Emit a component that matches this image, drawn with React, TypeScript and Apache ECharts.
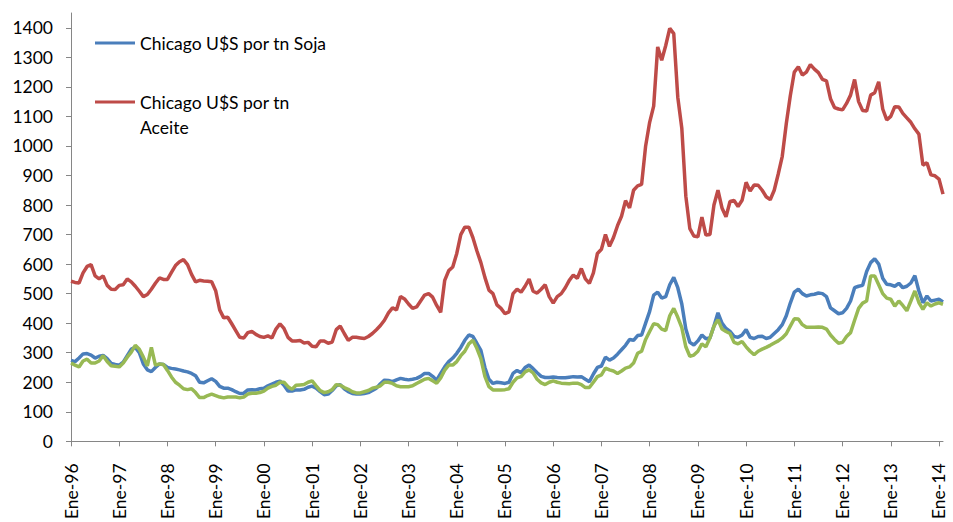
import React, { useEffect, useRef } from "react";
import * as echarts from "echarts";

const MONTHS = ["Ene", "Feb", "Mar", "Abr", "May", "Jun", "Jul", "Ago", "Sep", "Oct", "Nov", "Dic"];
const FIRST_YEAR = 1996;
const N_POINTS = 218; // Ene-96 .. Feb-14

const categories: string[] = [];
for (let i = 0; i < N_POINTS; i++) {
  const y = FIRST_YEAR + Math.floor(i / 12);
  categories.push(`${MONTHS[i % 12]}-${String(y % 100).padStart(2, "0")}`);
}

const yTicks = [0, 100, 200, 300, 400, 500, 600, 700, 800, 900, 1000, 1100, 1200, 1300, 1400];

const SOJA = "Chicago U$S por tn Soja";
const ACEITE = "Chicago U$S por tn Aceite";
const HARINA = "Chicago U$S por tn Harina";

const soja = [
  274, 270, 282, 296, 297, 292, 282, 288, 291, 280, 264, 260,
  258, 268, 290, 312, 318, 300, 262, 242, 236, 250, 262, 260,
  250, 247, 245, 242, 238, 235, 230, 222, 200, 198, 205, 212,
  203, 186, 180, 180, 175, 168, 162, 163, 174, 175, 174, 178,
  180, 188, 194, 200, 204, 190, 170, 170, 174, 174, 176, 183,
  187, 180, 168, 158, 160, 172, 188, 192, 178, 168, 162, 160,
  160, 162, 165, 172, 180, 195, 207, 206, 202, 208, 213, 210,
  208, 210, 213, 220, 230, 230, 220, 207, 230, 252, 270, 282,
  298, 318, 342, 360, 355, 332, 308, 250, 210, 196, 200, 198,
  196, 200, 230, 240, 232, 250, 258, 246, 232, 220, 216, 216,
  218, 216, 215, 215, 217, 219, 218, 219, 210, 202, 228, 250,
  255, 285, 275, 282, 295, 310, 325, 345, 342, 358, 360, 400,
  440, 495, 505, 485, 490, 530, 555, 520, 465, 380, 335, 326,
  340, 360, 347, 350, 390, 435, 400, 382, 372, 355, 352, 360,
  378, 352, 348, 355, 356, 348, 352, 365, 378, 395, 425, 468,
  505, 515, 500, 492, 496, 498, 502, 500, 490, 452, 442, 432,
  435, 450, 475, 520, 525, 528, 575, 605, 618, 600, 552, 532,
  530, 525, 535, 520, 525, 536, 561, 509, 469, 492, 475, 478,
  481, 472,
];

const aceite = [
  542, 538, 536, 570, 592, 598, 560, 550, 560, 528, 515, 514,
  528, 530, 550, 540, 525, 508, 490, 497, 515, 535, 553, 548,
  548, 572, 595, 608, 615, 598, 565, 540, 545, 543, 542, 540,
  510, 445, 418, 420, 398, 375, 352, 350, 368, 372, 362, 355,
  352, 357, 350, 380, 398, 382, 352, 340, 340, 341, 333, 335,
  322, 320, 340, 340, 332, 336, 378, 390, 365, 342, 352, 352,
  350, 348, 355, 365, 378, 392, 410, 435, 452, 445, 490, 482,
  465, 450, 455, 475, 495, 500, 488, 460, 437, 545, 578, 590,
  636, 700, 725, 725, 690, 645, 605, 555, 512, 500, 462, 450,
  432, 438, 500, 515, 505, 525, 549, 508, 502, 515, 530, 490,
  468, 490, 500, 520, 545, 563, 552, 585, 550, 535, 570, 636,
  650, 700, 660, 690, 730, 762, 815, 790, 850, 865, 870, 1000,
  1080, 1135, 1335, 1290, 1340, 1398, 1380, 1165, 1060, 830, 720, 695,
  692, 759, 698, 700, 800, 850, 790, 760, 812, 815, 795, 816,
  877, 847, 868, 867, 850, 828, 818, 850, 905, 965, 1075, 1170,
  1250, 1268, 1240, 1250, 1275, 1260, 1248, 1225, 1220, 1160, 1130, 1125,
  1122, 1144, 1172, 1225, 1150, 1120, 1118, 1172, 1180, 1217, 1125, 1088,
  1100, 1133, 1132, 1110, 1095, 1080, 1058, 1040, 935, 943, 902, 899,
  888, 837,
];

const harina = [
  265, 258, 252, 272, 278, 265, 265, 272, 290, 270, 256, 254,
  252, 265, 285, 302, 325, 312, 285, 255, 318, 258, 262, 260,
  240, 218, 200, 190, 178, 175, 178, 165, 148, 148, 155, 160,
  155, 150, 147, 150, 150, 150, 147, 150, 160, 163, 163, 165,
  170, 180, 186, 190, 200, 200, 185, 176, 190, 191, 192, 200,
  205, 188, 172, 165, 168, 175, 192, 190, 182, 176, 168, 164,
  164, 168, 172, 180, 183, 188, 200, 200, 196, 188, 185, 185,
  185, 188, 196, 203, 210, 213, 205, 197, 215, 241, 258, 258,
  270, 290, 305, 330, 342, 315, 280, 220, 185, 174, 174, 174,
  175, 178, 200, 215, 219, 235, 242, 232, 210, 198, 192, 200,
  205, 200, 197, 196, 195, 197, 197, 192, 182, 182, 200, 219,
  225, 248, 242, 238, 230, 238, 248, 252, 265, 298, 305, 345,
  372, 398, 395, 380, 375, 425, 450, 420, 385, 320, 288, 292,
  305, 330, 320, 350, 390, 412, 380, 372, 365, 335, 330, 338,
  320, 305, 293, 305, 312, 318, 325, 333, 340, 350, 364, 390,
  415, 414, 395, 386, 386, 386, 387, 386, 380, 360, 345, 332,
  335, 355, 368, 410, 450, 468, 475, 560, 560, 530, 500, 485,
  481, 458, 475, 460, 442, 475, 509, 470, 447, 469, 458, 465,
  469, 464,
];

const FONT = "Lato, 'Open Sans', sans-serif";
const FONT_SIZE = 17.5;
const AXIS_GRAY = "#868686";

export default function App() {
  const ref = useRef<HTMLDivElement>(null);

  useEffect(() => {
    if (!ref.current) return;
    const chart = echarts.init(ref.current, undefined, { renderer: "svg" });
    const textStyle = { fontFamily: FONT, fontSize: FONT_SIZE, color: "#000", lineHeight: 25 };
    chart.setOption({
      animation: false,
      backgroundColor: "#ffffff",
      grid: { left: 71, right: 10, top: 13, bottom: 75, containLabel: false },
      legend: [
        {
          data: [SOJA],
          left: 95,
          top: 30.5,
          padding: 0,
          icon: "rect",
          itemWidth: 40,
          itemHeight: 3,
          textStyle,
        },
        {
          data: [ACEITE],
          left: 95,
          top: 64.5,
          padding: 0,
          icon: "rect",
          itemWidth: 40,
          itemHeight: 3,
          // blank first line so that the first visible line sits level with the icon
          formatter: () => " \nChicago U$S por tn\nAceite",
          textStyle,
        },
      ],
      xAxis: {
        type: "category",
        data: categories,
        boundaryGap: false,
        axisLine: { lineStyle: { color: AXIS_GRAY, width: 1 } },
        axisTick: { interval: 11, length: 5, lineStyle: { color: AXIS_GRAY } },
        axisLabel: {
          interval: 11,
          rotate: 90,
          margin: 22,
          fontFamily: FONT,
          fontSize: FONT_SIZE,
          color: "#000",
        },
        splitLine: { show: false },
      },
      yAxis: {
        type: "value",
        min: 0,
        max: 1450,
        interval: 50,
        axisLine: { show: true, lineStyle: { color: AXIS_GRAY, width: 1 } },
        axisTick: { show: true, length: 5, lineStyle: { color: AXIS_GRAY }, customValues: yTicks },
        axisLabel: {
          margin: 18,
          fontFamily: FONT,
          fontSize: FONT_SIZE,
          color: "#000",
          customValues: yTicks,
          formatter: (v: number) => String(v),
        },
        splitLine: { show: false },
      },
      series: [
        {
          name: SOJA,
          type: "line",
          data: soja,
          symbol: "none",
          color: "#4A7EBB",
          lineStyle: { width: 3.5, color: "#4A7EBB" },
        },
        {
          name: ACEITE,
          type: "line",
          data: aceite,
          symbol: "none",
          color: "#BE4B48",
          lineStyle: { width: 3.5, color: "#BE4B48" },
        },
        {
          name: HARINA,
          type: "line",
          data: harina,
          symbol: "none",
          color: "#98B954",
          lineStyle: { width: 3.5, color: "#98B954" },
        },
      ],
    });
    return () => chart.dispose();
  }, []);

  return (
    <div
      ref={ref}
      style={{ position: "absolute", left: 0, top: 0, width: 953, height: 522, background: "#fff" }}
    />
  );
}
